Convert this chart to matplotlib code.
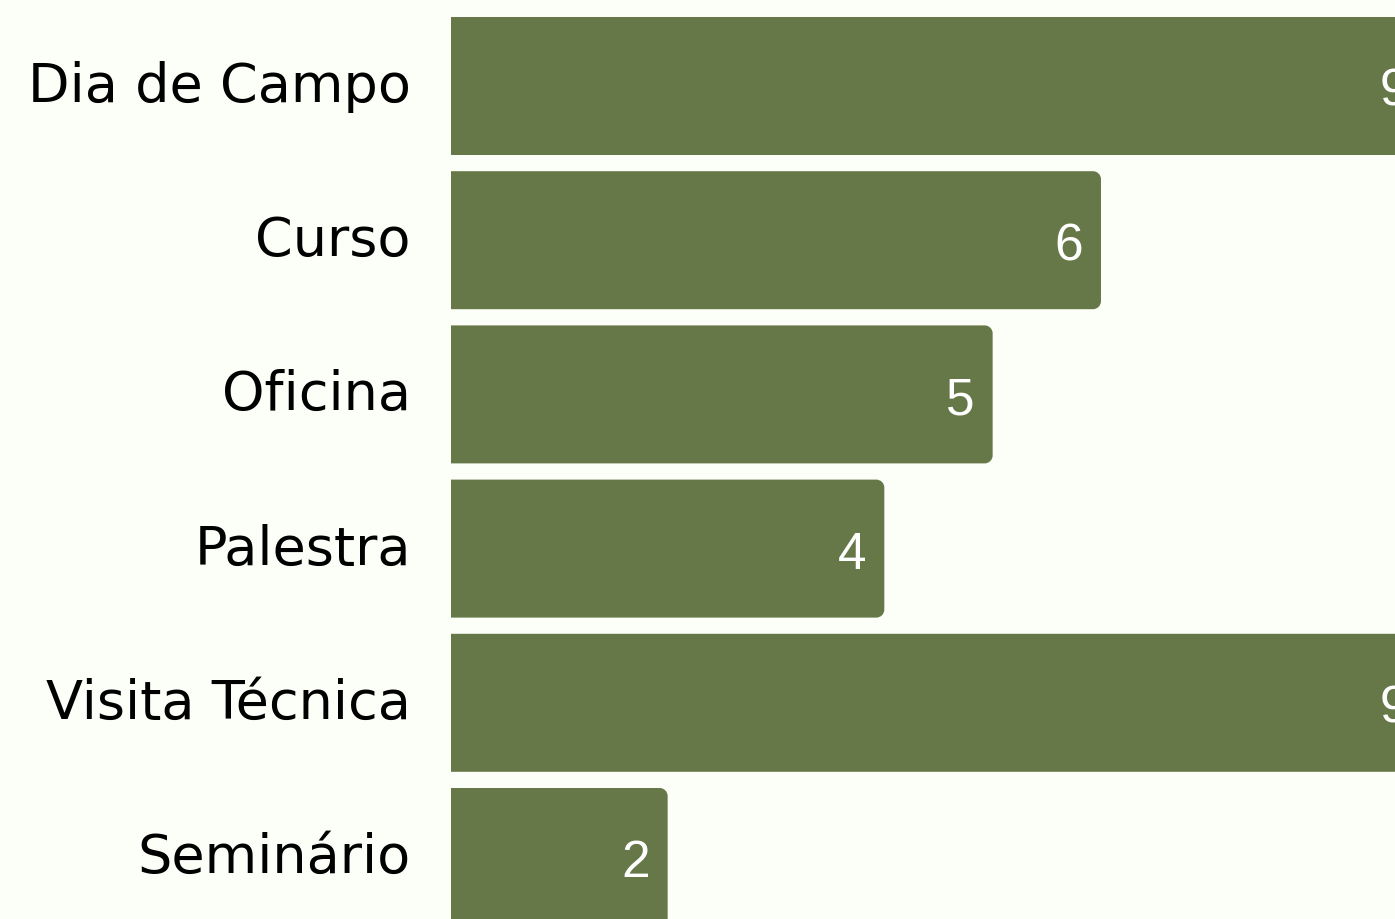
import matplotlib
matplotlib.use("Agg")
import matplotlib.pyplot as plt
from matplotlib.patches import PathPatch
from matplotlib.path import Path

categories = ["Dia de Campo", "Curso", "Oficina", "Palestra", "Visita Técnica", "Seminário"]
values = [9, 6, 5, 4, 9, 2]

BG = "#fcfef8"
BAR = "#677848"

W, H = 1395, 920
fig = plt.figure(figsize=(W / 100, H / 100), dpi=100, facecolor=BG)

# axes spans from the bar baseline to the right edge of the canvas
left_px = 451
px_per_unit_x = 108.33
px_per_unit_y = 154.2
ax = fig.add_axes([left_px / W, 0, 1 - left_px / W, 1])
ax.set_facecolor(BG)
ax.set_xlim(0, (W - left_px) / px_per_unit_x)
top = -87 / px_per_unit_y
ax.set_ylim(top + H / px_per_unit_y, top)
for s in ax.spines.values():
    s.set_visible(False)
ax.set_xticks([])
ax.set_yticks([])


def right_rounded(x0, y0, w, h, rx, ry):
    # rectangle with square left corners and rounded right corners
    k = 0.5523
    x1, y1 = x0 + w, y0 + h
    verts = [
        (x0, y0), (x1 - rx, y0),
        (x1 - rx + k * rx, y0), (x1, y0 + ry - k * ry), (x1, y0 + ry),
        (x1, y1 - ry),
        (x1, y1 - ry + k * ry), (x1 - rx + k * rx, y1), (x1 - rx, y1),
        (x0, y1), (x0, y0),
    ]
    codes = [Path.MOVETO, Path.LINETO,
             Path.CURVE4, Path.CURVE4, Path.CURVE4,
             Path.LINETO,
             Path.CURVE4, Path.CURVE4, Path.CURVE4,
             Path.LINETO, Path.CLOSEPOLY]
    return Path(verts, codes)


bar_h = 138 / px_per_unit_y
bars = ax.barh(range(len(values)), values, height=bar_h, color="none")

rx = 8 / px_per_unit_x
ry = 8 / px_per_unit_y
for rect, v in zip(bars, values):
    x0, y0 = rect.get_x(), rect.get_y()
    w, h = rect.get_width(), rect.get_height()
    ax.add_patch(PathPatch(right_rounded(x0, y0, w, h, rx, ry),
                           fc=BAR, ec="none", clip_on=False))
    ax.text(v - 18 / px_per_unit_x, y0 + h / 2, str(v), ha="right", va="center_baseline",
            fontsize=37, color="white", family="Liberation Sans", clip_on=False)

for i, c in enumerate(categories):
    ax.text(-40 / px_per_unit_x, i + 15 / px_per_unit_y, c, ha="right", va="baseline",
            fontsize=39, color="black", family="DejaVu Sans", clip_on=False)

fig.savefig("out.png", dpi=100, facecolor=BG)
